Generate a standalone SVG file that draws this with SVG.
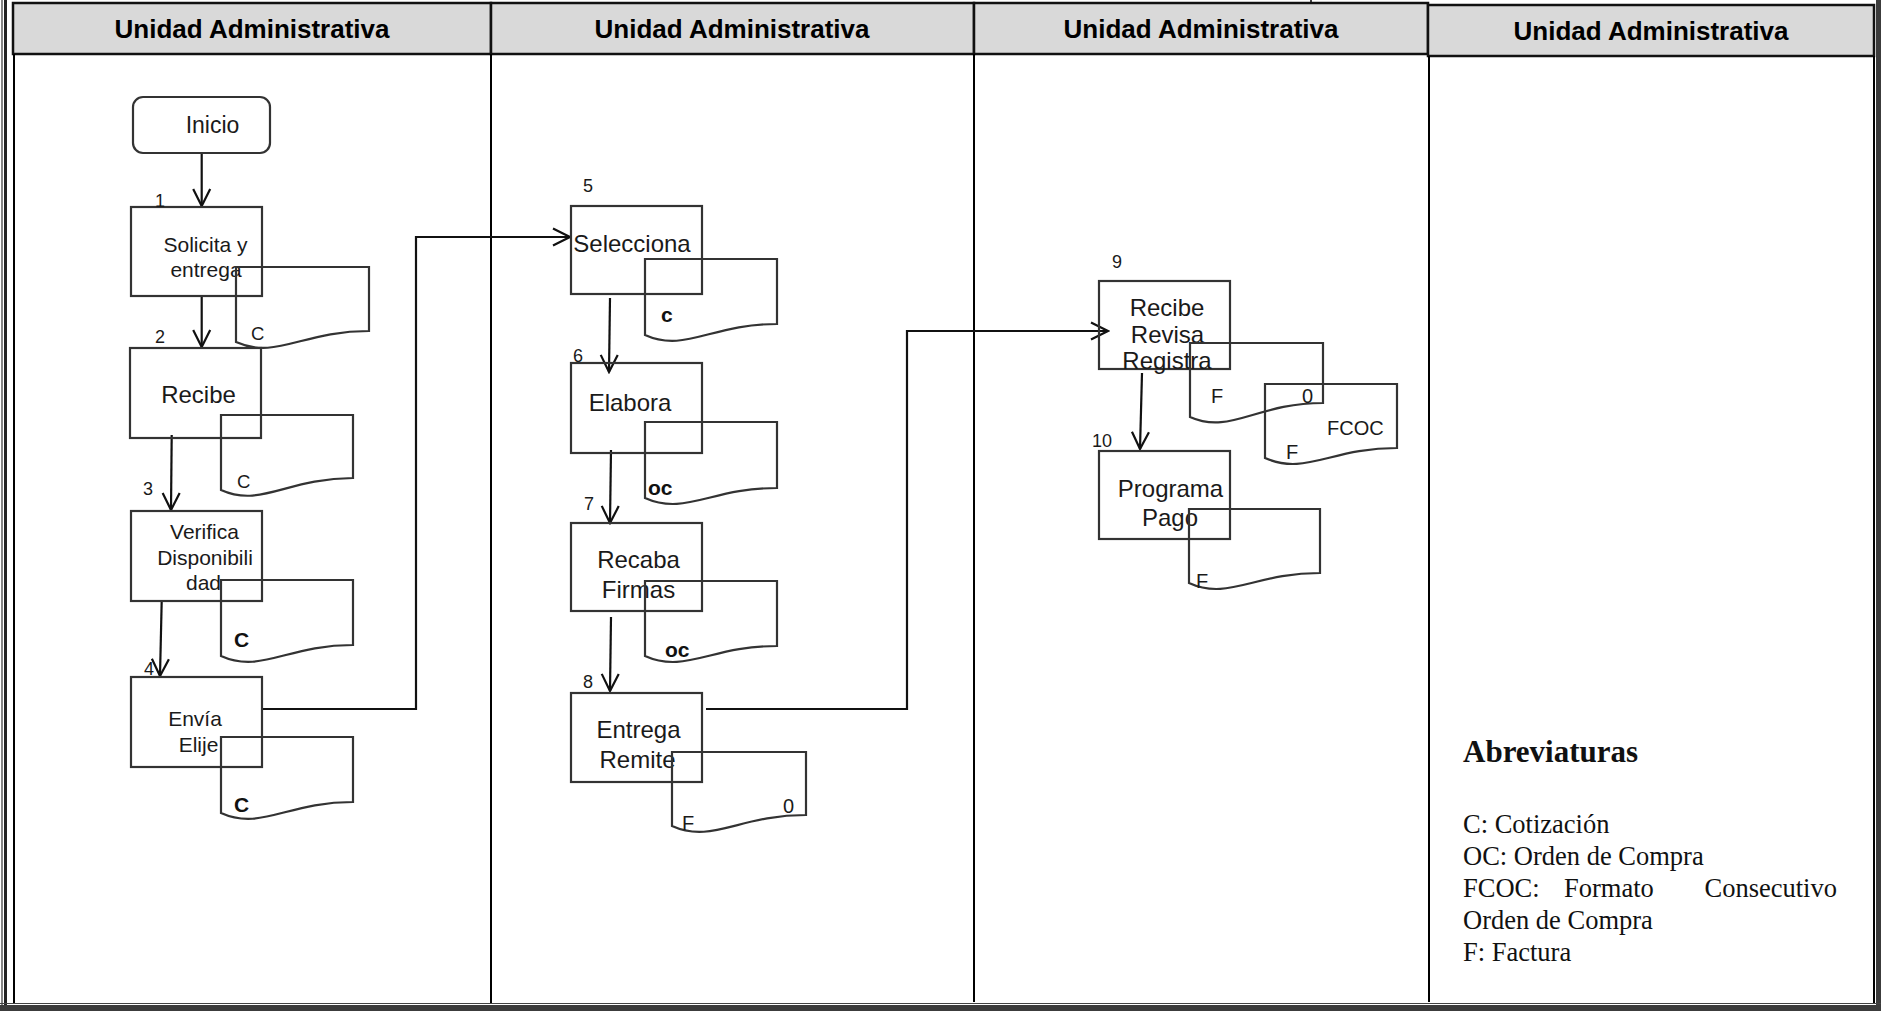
<svg xmlns="http://www.w3.org/2000/svg" width="1881" height="1011" viewBox="0 0 1881 1011">
<style>
.hdr{fill:#d9d9d9;stroke:#111;stroke-width:2.5}
.ht{font-family:"Liberation Sans",Arial,sans-serif;font-weight:bold;font-size:26px;fill:#000;text-anchor:middle}
.lane{stroke:#000;stroke-width:2;fill:none}
.box{fill:none;stroke:#333;stroke-width:2.2}
.doc{fill:none;stroke:#333;stroke-width:2.2}
.t{font-family:"Liberation Sans",Arial,sans-serif;fill:#1a1a1a;text-anchor:middle}
.t21{font-size:21px}
.t23{font-size:23px}
.t24{font-size:24px}
.n{font-family:"Liberation Sans",Arial,sans-serif;font-size:18px;fill:#1a1a1a}
.d{font-family:"Liberation Sans",Arial,sans-serif;font-size:20px;fill:#1a1a1a}
.dc{font-family:"Liberation Sans",Arial,sans-serif;font-size:18.5px;fill:#1a1a1a}
.db{font-family:"Liberation Sans",Arial,sans-serif;font-size:21px;font-weight:bold;fill:#111}
.con{fill:none;stroke:#111;stroke-width:2.2}
.ab{font-family:"Liberation Serif","Times New Roman",serif;fill:#111}
</style>
<defs>
<marker id="arr" viewBox="0 0 20 20" refX="18" refY="10" markerWidth="20" markerHeight="20" markerUnits="userSpaceOnUse" orient="auto">
<path d="M1,1.5 L18,10 L1,18.5" fill="none" stroke="#111" stroke-width="2.2"/>
</marker>
</defs>
<rect x="0" y="0" width="1881" height="1011" fill="#ffffff"/>
<g id="frame">
<line x1="2" y1="0" x2="2" y2="1011" stroke="#333" stroke-width="1.2"/>
<line x1="5.5" y1="0" x2="5.5" y2="1011" stroke="#222" stroke-width="3"/>
<rect x="1876" y="0" width="5" height="1011" fill="#3c3c3c"/>
<line x1="0" y1="1003.5" x2="1881" y2="1003.5" stroke="#444" stroke-width="1"/>
<rect x="0" y="1005" width="1881" height="6" fill="#3c3c3c"/>
<line x1="1311" y1="0" x2="1311" y2="4" stroke="#000" stroke-width="1.5"/>
</g>
<g id="lanes">
<rect class="hdr" x="13" y="3" width="478" height="51"/>
<rect class="hdr" x="491" y="3" width="483" height="51"/>
<rect class="hdr" x="974" y="3" width="454" height="51"/>
<rect class="hdr" x="1428" y="5" width="446" height="51"/>
<text class="ht" x="252" y="38">Unidad Administrativa</text>
<text class="ht" x="732" y="38">Unidad Administrativa</text>
<text class="ht" x="1201" y="38">Unidad Administrativa</text>
<text class="ht" x="1651" y="40">Unidad Administrativa</text>
<line class="lane" x1="14" y1="54" x2="14" y2="1003"/>
<line class="lane" x1="491" y1="54" x2="491" y2="1003"/>
<line class="lane" x1="974" y1="54" x2="974" y2="1002"/>
<line class="lane" x1="1429" y1="56" x2="1429" y2="1002"/>
<line class="lane" x1="1874" y1="56" x2="1874" y2="1003" stroke-width="2.5"/>
</g>
<g id="connectors">
<line class="con" x1="201.7" y1="153" x2="201.7" y2="206" marker-end="url(#arr)"/>
<line class="con" x1="201.7" y1="296" x2="201.7" y2="347" marker-end="url(#arr)"/>
<line class="con" x1="171.7" y1="435" x2="171" y2="510" marker-end="url(#arr)"/>
<line class="con" x1="161.7" y1="601" x2="160" y2="676" marker-end="url(#arr)"/>
<polyline class="con" points="262,709 416,709 416,237 570,237" marker-end="url(#arr)"/>
<line class="con" x1="610" y1="298" x2="609" y2="372" marker-end="url(#arr)"/>
<line class="con" x1="611" y1="450" x2="610" y2="523" marker-end="url(#arr)"/>
<line class="con" x1="611" y1="617" x2="610" y2="691" marker-end="url(#arr)"/>
<polyline class="con" points="706,709 907,709 907,331 1108,331" marker-end="url(#arr)"/>
<line class="con" x1="1142" y1="373" x2="1140" y2="449" marker-end="url(#arr)"/>
</g>
<g id="inicio">
<rect class="box" x="133" y="97" width="137" height="56" rx="10"/>
<text class="t t23" x="212.5" y="133">Inicio</text>
</g>
<g id="n1">
<rect class="box" x="131" y="207" width="131" height="89"/>
<text class="n" x="155" y="207">1</text>
<text class="t t21" x="205.5" y="252">Solicita y</text>
<text class="t t21" x="206" y="277">entrega</text>
<path class="doc" d="M236,267 H369 V331 C302.5,331 276,360 236,342 Z"/>
<text class="dc" x="251" y="340">C</text>
</g>
<g id="n2">
<rect class="box" x="130" y="348" width="131" height="90"/>
<text class="n" x="155" y="343">2</text>
<text class="t t24" x="198.5" y="403">Recibe</text>
<path class="doc" d="M221,415 H353 V478 C287,478 261,508 221,490 Z"/>
<text class="dc" x="237" y="488">C</text>
</g>
<g id="n3">
<rect class="box" x="131" y="511" width="131" height="90"/>
<text class="n" x="143" y="495">3</text>
<text class="t t21" x="204.5" y="539">Verifica</text>
<text class="t t21" x="205" y="565">Disponibili</text>
<text class="t t21" x="203.5" y="590">dad</text>
<path class="doc" d="M221,580 H353 V645 C287,645 261,674 221,656 Z"/>
<text class="db" x="234" y="647">C</text>
</g>
<g id="n4">
<rect class="box" x="131" y="677" width="131" height="90"/>
<text class="n" x="144" y="675">4</text>
<text class="t t21" x="195" y="726">Envía</text>
<text class="t t21" x="198.5" y="752">Elije</text>
<path class="doc" d="M221,737 H353 V802 C287,802 261,831 221,813 Z"/>
<text class="db" x="234" y="812">C</text>
</g>
<g id="n5">
<rect class="box" x="571" y="206" width="131" height="88"/>
<text class="n" x="583" y="192">5</text>
<text class="t t24" x="632" y="252">Selecciona</text>
<path class="doc" d="M645,259 H777 V324 C711,324 685,353 645,335 Z"/>
<text class="db" x="661" y="322">c</text>
</g>
<g id="n6">
<rect class="box" x="571" y="363" width="131" height="90"/>
<text class="n" x="573" y="362">6</text>
<text class="t t24" x="630" y="411">Elabora</text>
<path class="doc" d="M645,422 H777 V488 C711,488 685,516 645,498 Z"/>
<text class="db" x="648" y="495">oc</text>
</g>
<g id="n7">
<rect class="box" x="571" y="523" width="131" height="88"/>
<text class="n" x="584" y="510">7</text>
<text class="t t24" x="638.5" y="568">Recaba</text>
<text class="t t24" x="638.5" y="598">Firmas</text>
<path class="doc" d="M645,581 H777 V646 C711,646 685,674 645,656 Z"/>
<text class="db" x="665" y="657">oc</text>
</g>
<g id="n8">
<rect class="box" x="571" y="693" width="131" height="89"/>
<text class="n" x="583" y="688">8</text>
<text class="t t24" x="638.5" y="738">Entrega</text>
<text class="t t24" x="637.5" y="768">Remite</text>
<path class="doc" d="M672,752 H806 V815 C739,815 712,844 672,826 Z"/>
<text class="d" x="682" y="830">F</text>
<text class="d" x="783" y="813">0</text>
</g>
<g id="n9">
<rect class="box" x="1099" y="281" width="131" height="88"/>
<text class="n" x="1112" y="268">9</text>
<text class="t t24" x="1167" y="316">Recibe</text>
<text class="t t24" x="1167.5" y="343">Revisa</text>
<text class="t t24" x="1167" y="369">Registra</text>
<path class="doc" d="M1190,343 H1323 V403 C1256,403 1230,435 1190,417 Z"/>
<text class="d" x="1211" y="403">F</text>
<text class="d" x="1302" y="403">0</text>
<path class="doc" d="M1265,384 H1397 V448 C1331,448 1305,476 1265,458 Z"/>
<text class="d" x="1327" y="435">FCOC</text>
<text class="d" x="1286" y="459">F</text>
</g>
<g id="n10">
<rect class="box" x="1099" y="451" width="131" height="88"/>
<text class="n" x="1092" y="447">10</text>
<text class="t t24" x="1170.5" y="497">Programa</text>
<text class="t t24" x="1170" y="526">Pago</text>
<path class="doc" d="M1189,509 H1320 V573 C1254.5,573 1228,601 1189,583 Z"/>
<text class="d" x="1196" y="588">F</text>
</g>
<g id="abreviaturas">
<text class="ab" x="1463" y="762" font-size="31" font-weight="bold">Abreviaturas</text>
<text class="ab" x="1463" y="833" font-size="26.5">C: Cotización</text>
<text class="ab" x="1463" y="865" font-size="26.5">OC: Orden de Compra</text>
<text class="ab" x="1463" y="897" font-size="26.5">FCOC:</text>
<text class="ab" x="1564" y="897" font-size="26.5">Formato</text>
<text class="ab" x="1837" y="897" font-size="26.5" text-anchor="end">Consecutivo</text>
<text class="ab" x="1463" y="929" font-size="26.5">Orden de Compra</text>
<text class="ab" x="1463" y="961" font-size="26.5">F: Factura</text>
</g>
</svg>
